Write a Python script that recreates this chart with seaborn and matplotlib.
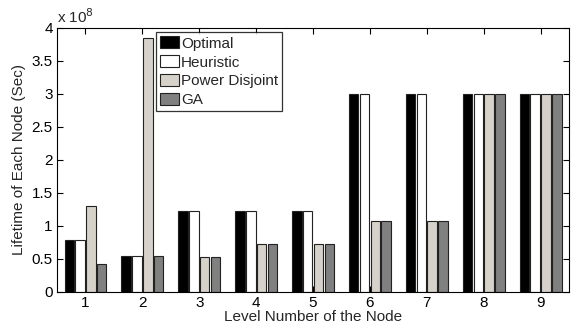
import matplotlib
matplotlib.use("Agg")
import matplotlib.pyplot as plt
from matplotlib.ticker import FuncFormatter, MultipleLocator
import seaborn as sns
import pandas as pd

levels = ["1", "2", "3", "4", "5", "6", "7", "8", "9"]
methods = ["Optimal", "Heuristic", "Power Disjoint", "GA"]
optimal = [0.78e8, 0.55e8, 1.22e8, 1.22e8, 1.22e8, 3.0e8, 3.0e8, 3.0e8, 3.0e8]
heuristic = [0.78e8, 0.55e8, 1.22e8, 1.22e8, 1.22e8, 3.0e8, 3.0e8, 3.0e8, 3.0e8]
power_disjoint = [1.30e8, 3.85e8, 0.53e8, 0.73e8, 0.73e8, 1.08e8, 1.08e8, 3.0e8, 3.0e8]
ga = [0.43e8, 0.55e8, 0.53e8, 0.73e8, 0.73e8, 1.08e8, 1.08e8, 3.0e8, 3.0e8]
colors = ["#000000", "#ffffff", "#d6d2ca", "#808080"]

rows = []
for name, vals in zip(methods, [optimal, heuristic, power_disjoint, ga]):
    for lvl, v in zip(levels, vals):
        rows.append({"Level": lvl, "Method": name, "Lifetime": v})
df = pd.DataFrame(rows)

sns.set_style("white")
plt.rcParams["font.family"] = ["Liberation Sans", "DejaVu Sans"]
FS = 11

fig = plt.figure(figsize=(5.76, 3.24), dpi=100)
ax = fig.add_axes([0.099, 0.099, 0.889, 0.815])

sns.barplot(data=df, x="Level", y="Lifetime", hue="Method", order=levels,
            hue_order=methods, palette=colors, width=0.76, gap=0.12,
            edgecolor="#222222", linewidth=0.8, saturation=1, ax=ax)

ax.set_xlim(-0.5, 8.5)
ax.set_ylim(0, 4e8)
ax.yaxis.set_major_locator(MultipleLocator(0.5e8))
ax.yaxis.set_major_formatter(FuncFormatter(lambda v, _: f"{v / 1e8:g}"))
ax.text(0.0, 1.008, r"x 10$^8$", transform=ax.transAxes, fontsize=FS,
        ha="left", va="bottom")

ax.set_xlabel("Level Number of the Node", fontsize=FS, labelpad=0)
ax.set_ylabel("Lifetime of Each Node (Sec)", fontsize=FS, labelpad=4)
ax.tick_params(axis="both", labelsize=FS, direction="in", length=4,
               width=0.8, top=True, right=True, bottom=True, left=True,
               pad=3, colors="black")
for s in ax.spines.values():
    s.set_visible(True)
    s.set_color("black")
    s.set_linewidth(0.8)

leg = ax.legend(loc="upper left", bbox_to_anchor=(0.194, 0.983), fontsize=FS,
                frameon=True, fancybox=False, edgecolor="black",
                handlelength=1.25, handleheight=0.85, handletextpad=0.1,
                borderpad=0.25, labelspacing=0.3, borderaxespad=0)
leg.get_frame().set_linewidth(0.9)

fig.savefig("out.png", dpi=100)
